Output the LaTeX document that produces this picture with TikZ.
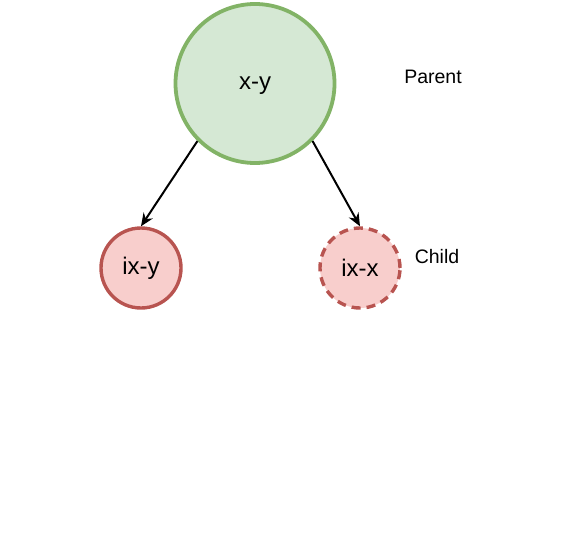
\documentclass[tikz,border=0pt]{standalone}
\usepackage{fontspec}
\setmainfont{Liberation Sans}
\usetikzlibrary{arrows.meta}
\definecolor{gfill}{HTML}{D5E8D4}
\definecolor{gline}{HTML}{82B366}
\definecolor{rfill}{HTML}{F8CECC}
\definecolor{rline}{HTML}{B85450}
\tikzset{
  parentnode/.style={circle, draw=gline, fill=gfill, line width=3.8pt, minimum size=159pt, inner sep=0pt, font=\fontsize{24}{28}\selectfont},
  childnode/.style={circle, draw=rline, fill=rfill, line width=3.4pt, minimum size=80pt, inner sep=0pt, font=\fontsize{24}{28}\selectfont},
  lbl/.style={font=\fontsize{19.5}{23}\selectfont, inner sep=0pt},
  conn/.style={line width=2pt, -{Stealth[length=13pt,width=11pt]}}
}
\begin{document}
\begin{tikzpicture}[x=1pt,y=1pt]
\useasboundingbox (0,0) rectangle (580,-548);
\node[parentnode, text depth=0pt] (p) at (255,-83.5) {x-y};
\node[childnode] (c1) at (141,-268) {ix-y};
\node[childnode, dash pattern=on 9pt off 6pt] (c2) at (360,-268) {ix-x};
\node[lbl] (lp) at (433,-77) {Parent};
\node[lbl] (lc) at (437,-257) {Child};
\draw[conn] (p.225) -- (c1.north);
\draw[conn] (p.315) -- (c2.north);
\end{tikzpicture}
\end{document}
